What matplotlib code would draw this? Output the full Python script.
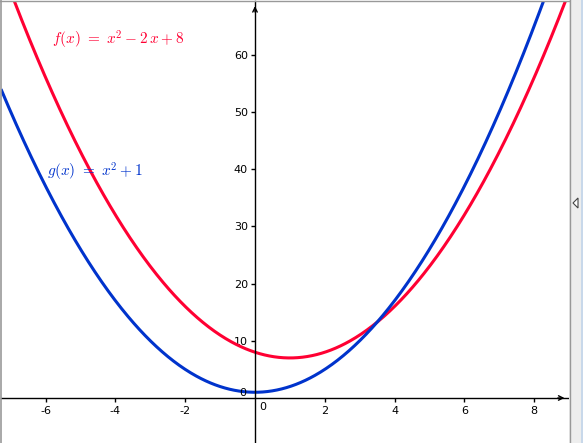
import numpy as np
import matplotlib
matplotlib.use("Agg")
import matplotlib.pyplot as plt
from matplotlib.patches import Rectangle, Polygon
from matplotlib.lines import Line2D

# coefficients of the two parabolas (highest power first)
f_coeffs = [1, -2, 8]
g_coeffs = [1, 0, 1]
f_label = r'$f(x)\ =\ x^2 - 2\,x + 8$'
g_label = r'$g(x)\ =\ x^2 + 1$'

x_ticks = [-6, -4, -2, 2, 4, 6, 8]
y_ticks = [10, 20, 30, 40, 50, 60]

red = '#ff0033'
blue = '#0033cc'

plt.rcParams['mathtext.fontset'] = 'cm'
plt.rcParams['font.family'] = 'DejaVu Sans'
plt.rcParams['axes.unicode_minus'] = False

W, H = 583, 443
fig = plt.figure(figsize=(W / 100, H / 100), dpi=100)
fig.patch.set_facecolor('white')

ax = fig.add_axes([1 / W, 0, 568 / W, 442 / H])
ax.set_xlim(-7.28, 9.0)
ax.set_ylim(-7.87, 69.4)
ax.set_facecolor('white')

xs = np.linspace(-7.28, 9.0, 600)
ax.plot(xs, np.polyval(f_coeffs, xs), color=red, lw=2.2, solid_capstyle='butt')
ax.plot(xs, np.polyval(g_coeffs, xs), color=blue, lw=2.2, solid_capstyle='butt')

# axes through the origin
for s in ['top', 'right']:
    ax.spines[s].set_visible(False)
ax.spines['left'].set_position(('data', 0))
ax.spines['bottom'].set_position(('data', 0))
ax.spines['left'].set_linewidth(1.0)
ax.spines['bottom'].set_linewidth(1.0)
ax.set_xticks(x_ticks)
ax.set_yticks(y_ticks)
ax.tick_params(axis='x', direction='out', length=3, width=1, pad=3, labelsize=8)
ax.tick_params(axis='y', direction='out', length=3, width=1, pad=2, labelsize=8)

ax.text(0.13, -1.6, '0', fontsize=8, ha='left', va='center')
ax.text(-0.25, 0.9, '0', fontsize=8, ha='right', va='center')

# arrow heads
ax.annotate('', xy=(8.95, 0), xytext=(8.6, 0),
            arrowprops=dict(arrowstyle='->', lw=1, color='black', mutation_scale=8))
ax.annotate('', xy=(0, 69.0), xytext=(0, 67.0),
            arrowprops=dict(arrowstyle='->', lw=1, color='black', mutation_scale=8))

ax.text(-5.82, 62.6, f_label, color=red, fontsize=11, ha='left', va='center')
ax.text(-5.96, 39.5, g_label, color=blue, fontsize=11, ha='left', va='center')

# window frame and side panel
fig.add_artist(Line2D([0.5 / W, 0.5 / W], [0, 1], color='#999999', lw=1.2))
fig.add_artist(Line2D([0, 569 / W], [1 - 0.5 / H, 1 - 0.5 / H], color='#999999', lw=1))
fig.add_artist(Rectangle((569 / W, 0), 14 / W, 1, facecolor='#eeeeee', edgecolor='none'))
fig.add_artist(Line2D([569.5 / W, 569.5 / W], [0, 1], color='#999999', lw=1))
fig.add_artist(Line2D([582 / W, 582 / W], [0, 1], color='#c8d8ea', lw=1.5))
fig.add_artist(Polygon([(573 / W, 1 - 203 / H), (578 / W, 1 - 198 / H), (578 / W, 1 - 208 / H)],
                       closed=True, facecolor='white', edgecolor='#444444', lw=0.8))

fig.savefig('out.png', dpi=100)
